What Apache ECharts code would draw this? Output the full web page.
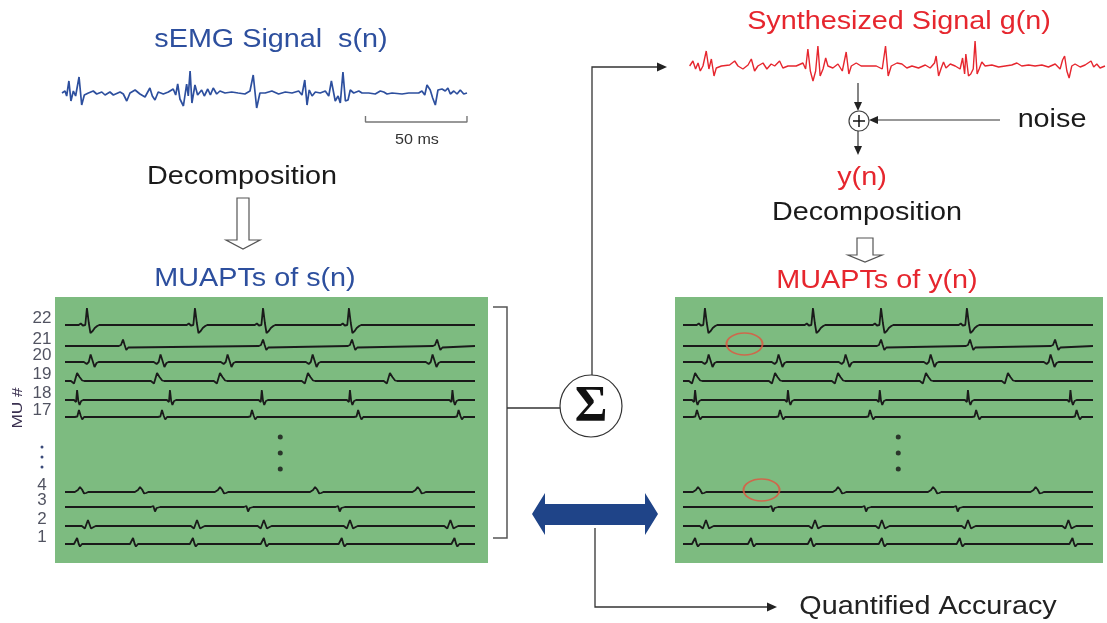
<!DOCTYPE html>
<html>
<head>
<meta charset="utf-8">
<script src="https://cdn.jsdelivr.net/npm/echarts@6/dist/echarts.min.js"></script>
<style>
  html, body { margin: 0; padding: 0; background: #ffffff; }
  #chart { width: 1107px; height: 623px; }
</style>
</head>
<body>
<div id="chart"></div>
<script>
// ---------- data ----------
// surface EMG s(n): [time ms, amplitude]
const semgTrace = [
  [0,0],[1.5,2],[2.3,-3],[3.4,12],[4.4,-8],[5.6,2],[6.7,-3],[8.4,16],[9.7,-12],[11.0,-2],[13.0,0],
  [15.4,2],[17.1,-1],[19.6,1],[21.2,-2],[23.6,1],[25.3,-2],[28.6,1],[30.2,-1],[31.9,-8],[33.5,0],
  [36.0,3],[38.4,-1],[40.9,-4],[43.3,5],[44.5,-3],[45.8,-7],[47.4,1],[49.9,-1],[52.4,1],[54.8,4],
  [56.0,-2],[57.0,9],[58.1,-6],[59.8,-13],[61.4,9],[62.2,-3],[63.1,22],[64.0,-10],[65.5,8],[66.8,-2],
  [68.8,3],[70.1,-3],[71.8,4],[73.1,-2],[74.5,5],[76.2,-1],[77.8,2],[80.3,0],[83.6,1],[86.8,0],
  [90.1,-1],[92.6,2],[94.2,18],[95.9,-15],[97.5,0],[100.1,0],[103.4,2],[106.7,-1],[110.0,1],[113.3,0],
  [116.6,2],[118.2,-2],[119.6,13],[120.7,-12],[121.8,3],[123.2,-3],[124.8,1],[127.2,0],[129.7,2],
  [131.4,-3],[132.7,12],[133.6,10],[134.6,-8],[136.0,-3],[137.1,-10],[138.4,21],[139.6,-8],[140.9,-7],
  [142.0,3],[143.7,0],[146.2,2],[147.8,0],[151.1,0],[154.3,-1],[156.8,2],[158.5,1],[160.1,-1],[162.6,0],
  [167.5,-1],[170.8,0],[175.7,0],[177.3,2],[178.7,-2],[179.8,8],[181.4,3],[182.6,-5],[183.9,-12],
  [185.2,3],[187.2,4],[188.8,2],[190.1,5],[191.3,-1],[193.0,2],[194.6,-1],[196.2,3],[197.9,-1],[199.5,0]
];

// synthesized signal g(n): [time ms, amplitude]
const synthTrace = [
  [0.8,0],[2.4,5],[3.7,-3],[4.9,3],[6.0,-5],[7.3,0],[8.9,15],[10.2,-3],[11.4,7],[12.7,-10],[13.8,-2],
  [16.3,0],[20.3,1],[22.8,5],[24.4,0],[26.8,-3],[29.3,1],[30.9,7],[32.5,-5],[34.1,0],[36.6,3],[38.5,-3],
  [40.6,2],[42.3,0],[44.7,5],[46.3,-2],[48.8,0],[52.8,0],[56.1,3],[57.4,-3],[58.5,17],[59.7,-5],
  [61.0,-15],[62.3,-5],[63.4,20],[64.5,-10],[65.9,-3],[67.2,8],[68.3,0],[70.7,-2],[73.2,2],[75.3,-5],
  [77.2,14],[78.5,-8],[79.7,0],[82.1,3],[84.5,0],[88.6,0],[91.9,0],[94.8,-3],[96.4,20],[97.7,-10],
  [99.2,0],[102.0,3],[104.4,2],[106.8,-2],[109.3,0],[112.5,-2],[115.8,1],[118.2,-2],[120.3,3],
  [121.1,10],[122.3,-10],[123.6,-2],[124.7,4],[125.9,-2],[128.0,2],[130.4,0],[132.8,-3],[134.0,8],
  [135.0,-8],[135.6,12],[136.9,-10],[138.0,-8],[139.2,-3],[140.1,25],[141.1,-8],[142.1,-3],[143.4,4],
  [145.0,0],[148.3,1],[151.6,-1],[154.8,0],[158.0,1],[160.5,3],[162.9,0],[166.2,1],[169.4,0],[172.7,1],
  [175.9,-1],[179.2,2],[181.6,-3],[182.8,6],[183.8,10],[184.9,-5],[186.0,-12],[187.3,0],[188.9,2],
  [191.4,-1],[193.8,1],[196.7,5],[198.0,-1],[199.5,2],[201.1,-2],[203.5,0]
];

// motor unit numbers shown, top to bottom
const muLabels = ['22', '21', '20', '19', '18', '17', '4', '3', '2', '1'];

// firing times (ms) of each motor unit
const mu22Firings = [10.7, 63.4, 96.6, 138.5];
const mu21Firings = [28.3, 96.6, 140, 181.5];
const mu20Firings = [12.2, 46.3, 79, 120.5, 179];
const mu19Firings = [5.9, 44.9, 75.6, 118.5, 158.5];
const mu18Firings = [5.9, 51.2, 96, 139, 189];
const mu17Firings = [6.8, 47.3, 91.2, 143, 192];
const mu4Firings  = [7.3, 36.6, 75.6, 122, 172];
const mu3Firings  = [43.9, 89.3, 134];
const mu2Firings  = [11.2, 64.4, 97, 139, 188];
const mu1Firings  = [5.9, 33.2, 62.4, 97, 135, 190];

// MUAP shapes: [time offset ms, amplitude]
const muap22 = [[-4,0],[-3,1.5],[-2,-0.5],[-0.8,0],[0,17],[0.9,2],[1.7,-8],[2.8,-6],[3.8,-3],[5,-1],[6,0]];
const muap21 = [[-2,0],[-1,1],[0,6.5],[0.8,1],[1.6,-4],[2.6,-1.5],[3.5,0]];
const muap20 = [[-3,0],[-1.6,-2],[-0.6,0],[0.3,7.5],[1.3,1],[2.2,-5],[3.2,-1],[4.2,0]];
const muap19 = [[-3,0],[-1.5,-2.5],[0,8],[1.2,4],[2.5,0.5],[3.5,0]];
const muap18 = [[-1.5,0],[-0.5,-2],[0,10],[0.6,-1],[1.2,-5],[2,-1],[3,0]];
const muap17 = [[-2,0],[-0.8,0.5],[0,7],[0.9,1],[1.6,-2.5],[2.5,0]];
const muap4  = [[-2.5,0],[-1,2],[0,5],[1,2.5],[2,-1.5],[3,-1],[4,0]];
const muap3  = [[-2,0],[-0.8,1],[0,-4.5],[0.8,-1],[1.6,-1.5],[2.5,0]];
const muap2  = [[-3,0],[-1.5,-2.5],[0,6],[1.5,-2.5],[2.8,-1],[3.8,0]];
const muap1  = [[-1.5,0],[-0.6,-1],[0,6],[0.8,0],[1.4,-2.5],[2.4,0]];

// discharges missed when decomposing y(n)
const missedUnits = ['21', '4'];
const missedTimes = [28.3, 36.6];

const scaleBarMs = 50;

// ---------- layout ----------
const PX_PER_MS = 2.05;
const TRACE_END = 200;
const ROW_BASE = [28, 49, 65, 84, 103, 120, 195, 210, 229, 247]; // px below panel top
const PANEL_TOP = 297, PANEL_H = 266;
const LEFT_PANEL = { left: 55, width: 433, traceStart: 65 };
const RIGHT_PANEL = { left: 675, width: 428, traceStart: 683 };

const GREEN = '#7dbb80';
const BLUE = '#2d4f9e';
const RED = '#e6262e';
const INK = '#1a1a1a';
const FONT = '"Liberation Sans", Arial, Helvetica, sans-serif';

const muFirings = [mu22Firings, mu21Firings, mu20Firings, mu19Firings, mu18Firings,
                   mu17Firings, mu4Firings, mu3Firings, mu2Firings, mu1Firings];
const muShapes = [muap22, muap21, muap20, muap19, muap18, muap17, muap4, muap3, muap2, muap1];

function buildTrain(firings, shape, base) {
  const pts = [[0, base]];
  firings.slice().sort((a, b) => a - b).forEach(t => {
    shape.forEach(([dt, a]) => {
      const x = t + dt;
      if (x > pts[pts.length - 1][0] && x < TRACE_END) pts.push([x, base - a]);
    });
  });
  pts.push([TRACE_END, base]);
  return pts;
}

function isMissed(label, t) {
  return missedUnits.some((u, k) => u === label && Math.abs(missedTimes[k] - t) < 1e-6);
}

function panelAxes(gridIndex, p) {
  const x = {
    type: 'value', gridIndex, show: false,
    min: -(p.traceStart - p.left) / PX_PER_MS,
    max: (p.left + p.width - p.traceStart) / PX_PER_MS
  };
  const y = { type: 'value', gridIndex, show: false, min: 0, max: PANEL_H, inverse: true };
  return [x, y];
}

const series = [];

// s(n) and its scale bar
series.push({
  type: 'line', xAxisIndex: 0, yAxisIndex: 0, data: semgTrace, showSymbol: false,
  lineStyle: { color: BLUE, width: 1.7 }, z: 3
});
const barEnd = 199.5;
series.push({
  type: 'line', xAxisIndex: 0, yAxisIndex: 0, showSymbol: false,
  data: [[barEnd - scaleBarMs, -23], [barEnd - scaleBarMs, -29], [barEnd, -29], [barEnd, -23]],
  lineStyle: { color: '#777', width: 1.4 }
});

// g(n)
series.push({
  type: 'line', xAxisIndex: 1, yAxisIndex: 1, data: synthTrace, showSymbol: false,
  lineStyle: { color: RED, width: 1.4 }, z: 3
});

// MUAPTs, both panels
[[2, false], [3, true]].forEach(([g, decomposed]) => {
  muLabels.forEach((lab, i) => {
    const firings = decomposed ? muFirings[i].filter(t => !isMissed(lab, t)) : muFirings[i];
    series.push({
      type: 'line', xAxisIndex: g, yAxisIndex: g, showSymbol: false,
      data: buildTrain(firings, muShapes[i], ROW_BASE[i]),
      lineStyle: { color: INK, width: 1.8 }, z: 3
    });
  });
  // vertical ellipsis between MU 17 and MU 4
  series.push({
    type: 'scatter', xAxisIndex: g, yAxisIndex: g, symbolSize: 5,
    data: [[105, 140], [105, 156], [105, 172]],
    itemStyle: { color: '#151515' }, z: 4
  });
});

// MU numbers beside the left panel
series.push({
  type: 'scatter', xAxisIndex: 2, yAxisIndex: 2, clip: false, symbolSize: 1,
  itemStyle: { color: 'rgba(0,0,0,0)' },
  data: muLabels.map((lab, i) => [-11.2, ROW_BASE[i] - 7, lab]),
  label: {
    show: true, position: 'inside', formatter: p => p.value[2],
    fontSize: 17, fontFamily: FONT, color: '#26283a'
  }
});

// circles marking missed discharges
series.push({
  type: 'scatter', xAxisIndex: 3, yAxisIndex: 3, clip: false, symbol: 'circle',
  symbolSize: [36, 22],
  data: missedUnits.map((u, k) => [missedTimes[k] + 1.7, ROW_BASE[muLabels.indexOf(u)] - 2]),
  itemStyle: { color: 'rgba(0,0,0,0)', borderColor: '#e2543f', borderWidth: 1.6 }, z: 5
});

// ---------- annotation graphics ----------
function txt(x, y, s, size, color, extra) {
  return Object.assign({
    type: 'text', x, y, scaleX: 1.15, z: 10,
    style: { text: s, textAlign: 'center', textVerticalAlign: 'middle',
             font: size + 'px ' + FONT, fill: color }
  }, extra || {});
}
function pline(points, color, w) {
  return { type: 'polyline', z: 10, shape: { points },
           style: { stroke: color || '#333', lineWidth: w || 1.3, fill: null } };
}
function poly(points, fill, stroke, w) {
  return { type: 'polygon', z: 10, shape: { points },
           style: { fill: fill, stroke: stroke || null, lineWidth: w || 0 } };
}
function circ(cx, cy, r, stroke, w) {
  return { type: 'circle', z: 10, shape: { cx, cy, r },
           style: { fill: '#fff', stroke: stroke || '#333', lineWidth: w || 1.2 } };
}

const graphics = [
  // left column
  txt(271, 40, 'sEMG Signal  s(n)', 25, BLUE),
  txt(417, 140, '50 ms', 14, '#333'),
  txt(242, 177, 'Decomposition', 25, INK),
  poly([[237, 198], [249, 198], [249, 240], [260, 240], [243, 249], [226, 240], [237, 240]], '#fff', '#555', 1.2),
  txt(255, 279, 'MUAPTs of s(n)', 25, BLUE),
  txt(18, 408, 'MU #', 15, '#3a3050', { rotation: Math.PI / 2 }),
  { type: 'circle', z: 10, shape: { cx: 42, cy: 447, r: 1.5 }, style: { fill: '#3a4a7a' } },
  { type: 'circle', z: 10, shape: { cx: 42, cy: 457, r: 1.5 }, style: { fill: '#3a4a7a' } },
  { type: 'circle', z: 10, shape: { cx: 42, cy: 467, r: 1.5 }, style: { fill: '#3a4a7a' } },

  // bracket feeding the summation
  pline([[493, 307], [507, 307], [507, 538], [493, 538]], '#555', 1.5),
  pline([[507, 408], [560, 408]], '#333', 1.3),
  pline([[592, 375], [592, 67], [659, 67]], '#333', 1.3),
  poly([[667, 67], [657, 62.5], [657, 71.5]], '#222'),
  circ(591, 406, 31, '#333', 1.2),
  { type: 'text', x: 591, y: 407, z: 11,
    style: { text: 'Σ', textAlign: 'center', textVerticalAlign: 'middle',
             font: 'bold 50px "Liberation Serif", "Times New Roman", serif', fill: '#111' } },

  // comparison arrow and accuracy output
  poly([[532, 514], [545, 493], [545, 504], [645, 504], [645, 493], [658, 514],
        [645, 535], [645, 525], [545, 525], [545, 535]], '#1f4488'),
  pline([[595, 528], [595, 607], [768, 607]], '#333', 1.3),
  poly([[777, 607], [767, 602.5], [767, 611.5]], '#222'),
  txt(928, 607, 'Quantified Accuracy', 25, '#222'),

  // right column
  txt(899, 22, 'Synthesized Signal g(n)', 25, RED),
  pline([[858, 83], [858, 104]], '#333', 1.2),
  poly([[858, 111], [854, 102], [862, 102]], '#222'),
  circ(859, 121, 10, '#444', 1.2),
  pline([[853, 121], [865, 121]], '#111', 1.5),
  pline([[859, 115], [859, 127]], '#111', 1.5),
  pline([[1000, 120], [877, 120]], '#333', 1.2),
  poly([[869, 120], [878, 116], [878, 124]], '#222'),
  pline([[858, 131], [858, 148]], '#333', 1.2),
  poly([[858, 155], [854, 146], [862, 146]], '#222'),
  txt(1052, 120, 'noise', 25, INK),
  txt(862, 178, 'y(n)', 25, RED),
  txt(867, 213, 'Decomposition', 25, INK),
  poly([[857, 238], [873, 238], [873, 255], [882, 255], [865, 262], [848, 255], [857, 255]], '#fff', '#555', 1.2),
  txt(877, 281, 'MUAPTs of y(n)', 25, RED)
];

const [lx, ly] = panelAxes(2, LEFT_PANEL);
const [rx, ry] = panelAxes(3, RIGHT_PANEL);

const option = {
  animation: false,
  backgroundColor: '#ffffff',
  grid: [
    { left: 62, top: 63, width: 406, height: 60, show: false },
    { left: 688, top: 36, width: 418, height: 60, show: false },
    { left: LEFT_PANEL.left, top: PANEL_TOP, width: LEFT_PANEL.width, height: PANEL_H,
      show: true, backgroundColor: GREEN, borderWidth: 0 },
    { left: RIGHT_PANEL.left, top: PANEL_TOP, width: RIGHT_PANEL.width, height: PANEL_H,
      show: true, backgroundColor: GREEN, borderWidth: 0 }
  ],
  xAxis: [
    { type: 'value', gridIndex: 0, show: false, min: 0, max: 200 },
    { type: 'value', gridIndex: 1, show: false, min: 0, max: 204 },
    lx, rx
  ],
  yAxis: [
    { type: 'value', gridIndex: 0, show: false, min: -30, max: 30 },
    { type: 'value', gridIndex: 1, show: false, min: -30, max: 30 },
    ly, ry
  ],
  series,
  graphic: { elements: graphics }
};

const chart = echarts.init(document.getElementById('chart'), null, { renderer: 'canvas' });
chart.setOption(option);
</script>
</body>
</html>
